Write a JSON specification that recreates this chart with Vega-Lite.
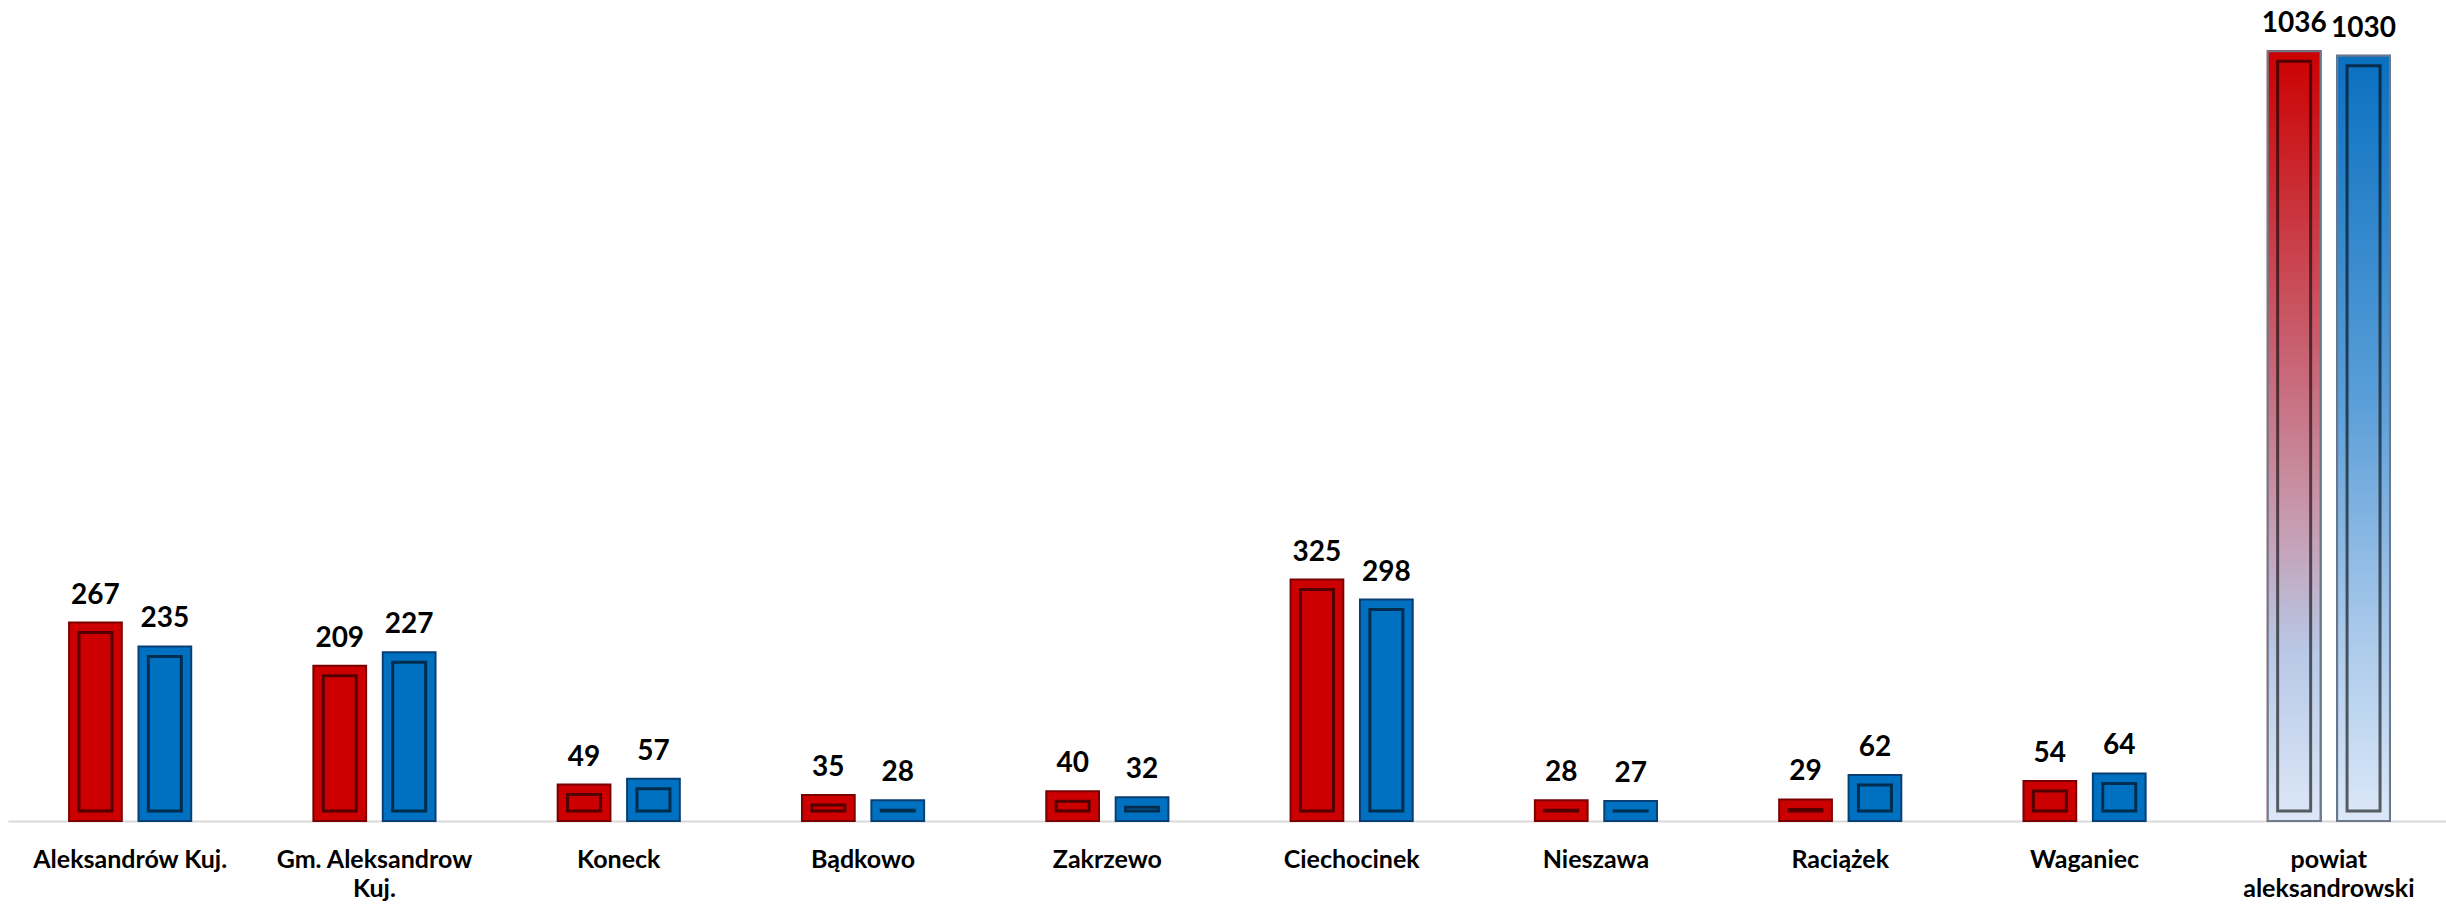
{
  "$schema": "https://vega.github.io/schema/vega-lite/v6.json",
  "autosize": {"type": "none"},
  "padding": {"left": 8, "top": 0, "right": 0, "bottom": 88},
  "width": 2443,
  "height": 821,
  "background": "white",
  "config": {"view": {"stroke": null}},
  "data": {
    "values": [
      {"category": "Aleksandrów Kuj.", "series": "A", "value": 267},
      {"category": "Aleksandrów Kuj.", "series": "B", "value": 235},
      {"category": "Gm. Aleksandrow Kuj.", "series": "A", "value": 209},
      {"category": "Gm. Aleksandrow Kuj.", "series": "B", "value": 227},
      {"category": "Koneck", "series": "A", "value": 49},
      {"category": "Koneck", "series": "B", "value": 57},
      {"category": "Bądkowo", "series": "A", "value": 35},
      {"category": "Bądkowo", "series": "B", "value": 28},
      {"category": "Zakrzewo", "series": "A", "value": 40},
      {"category": "Zakrzewo", "series": "B", "value": 32},
      {"category": "Ciechocinek", "series": "A", "value": 325},
      {"category": "Ciechocinek", "series": "B", "value": 298},
      {"category": "Nieszawa", "series": "A", "value": 28},
      {"category": "Nieszawa", "series": "B", "value": 27},
      {"category": "Raciążek", "series": "A", "value": 29},
      {"category": "Raciążek", "series": "B", "value": 62},
      {"category": "Waganiec", "series": "A", "value": 54},
      {"category": "Waganiec", "series": "B", "value": 64},
      {"category": "powiat aleksandrowski", "series": "A", "value": 1036},
      {"category": "powiat aleksandrowski", "series": "B", "value": 1030}
    ]
  },
  "encoding": {
    "x": {
      "field": "category",
      "type": "nominal",
      "sort": null,
      "scale": {"paddingInner": 0.5, "paddingOuter": 0.25},
      "axis": {
        "title": null,
        "ticks": false,
        "domainColor": "#D9D9D9",
        "domainWidth": 2,
        "labelAngle": 0,
        "labelFont": "Lato",
        "labelFontWeight": "bold",
        "labelFontSize": 25,
        "labelColor": "#000000",
        "labelBaseline": "alphabetic",
        "labelPadding": 46,
        "labelLineHeight": 29,
        "labelLimit": 400,
        "labelExpr": "datum.value == 'Gm. Aleksandrow Kuj.' ? ['Gm. Aleksandrow', 'Kuj.'] : datum.value == 'powiat aleksandrowski' ? ['powiat', 'aleksandrowski'] : datum.value"
      }
    },
    "xOffset": {"field": "series", "type": "nominal", "scale": {"paddingInner": 0.24, "paddingOuter": 0}},
    "y": {"field": "value", "type": "quantitative", "scale": {"domain": [0, 1105]}, "axis": null}
  },
  "layer": [
    {
      "mark": {"type": "bar", "strokeWidth": 2},
      "encoding": {
        "color": {"field": "series", "type": "nominal", "scale": {"domain": ["A", "B"], "range": ["#CC0000", "#0070C0"]}, "legend": null},
        "stroke": {"field": "series", "type": "nominal", "scale": {"domain": ["A", "B"], "range": ["#7A0000", "#0A3F73"]}, "legend": null}
      }
    },
    {
      "transform": [{"filter": "datum.category == 'powiat aleksandrowski' && datum.series == 'A'"}],
      "mark": {
        "type": "bar",
        "stroke": "#6E7A8C",
        "strokeWidth": 2,
        "fill": {
          "gradient": "linear", "x1": 0, "y1": 0, "x2": 0, "y2": 1,
          "stops": [
            {"offset": 0, "color": "#CC0000"},
            {"offset": 0.4, "color": "#C86474"},
            {"offset": 0.6, "color": "#C898AC"},
            {"offset": 0.78, "color": "#B8C8E6"},
            {"offset": 1, "color": "#DCE8F8"}
          ]
        }
      }
    },
    {
      "transform": [{"filter": "datum.category == 'powiat aleksandrowski' && datum.series == 'B'"}],
      "mark": {
        "type": "bar",
        "stroke": "#6E7A8C",
        "strokeWidth": 2,
        "fill": {
          "gradient": "linear", "x1": 0, "y1": 0, "x2": 0, "y2": 1,
          "stops": [
            {"offset": 0, "color": "#0A70C0"},
            {"offset": 0.45, "color": "#5A9ED8"},
            {"offset": 0.75, "color": "#A8C8EA"},
            {"offset": 1, "color": "#DCE8F8"}
          ]
        }
      }
    },
    {
      "mark": {"type": "bar", "width": 33, "yOffset": 10, "y2Offset": -10, "fill": null, "fillOpacity": 0, "stroke": "#000000", "strokeOpacity": 0.6, "strokeWidth": 3},
      "encoding": {"y2": {"datum": 0}}
    },
    {
      "mark": {"type": "text", "baseline": "alphabetic", "align": "center", "dy": -19, "font": "Lato", "fontWeight": "bold", "fontSize": 28, "color": "#000000"},
      "encoding": {"text": {"field": "value", "type": "quantitative"}}
    }
  ]
}
